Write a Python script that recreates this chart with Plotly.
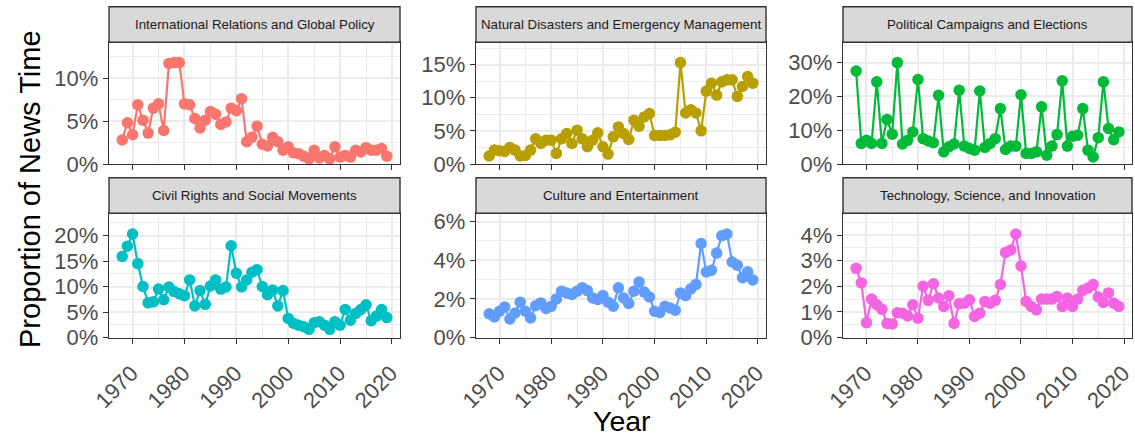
import plotly.graph_objects as go

years = [1968, 1969, 1970, 1971, 1972, 1973, 1974, 1975, 1976, 1977,
         1978, 1979, 1980, 1981, 1982, 1983, 1984, 1985, 1986, 1987,
         1988, 1989, 1990, 1991, 1992, 1993, 1994, 1995, 1996, 1997,
         1998, 1999, 2000, 2001, 2002, 2003, 2004, 2005, 2006, 2007,
         2008, 2009, 2010, 2011, 2012, 2013, 2014, 2015, 2016, 2017,
         2018, 2019]

topics = [
    "International Relations and Global Policy",
    "Natural Disasters and Emergency Management",
    "Political Campaigns and Elections",
    "Civil Rights and Social Movements",
    "Culture and Entertainment",
    "Technology, Science, and Innovation",
]

intl = [2.8, 4.8, 3.4, 6.9, 5.1, 3.6, 6.5, 7.0, 3.9, 11.7,
        11.8, 11.8, 7.0, 6.9, 5.3, 4.2, 5.1, 6.1, 5.8, 4.6,
        4.9, 6.5, 6.2, 7.6, 2.6, 3.1, 4.4, 2.3, 2.1, 3.1,
        2.6, 1.6, 2.0, 1.3, 1.2, 0.9, 0.6, 1.6, 0.7, 1.0,
        0.6, 2.0, 0.8, 1.0, 0.8, 1.6, 1.4, 1.9, 1.6, 1.6,
        1.8, 0.9]
natural = [1.2, 2.1, 2.0, 1.9, 2.5, 2.1, 1.2, 1.3, 2.1, 3.8,
           3.1, 3.6, 3.6, 1.6, 3.8, 4.6, 3.1, 5.1, 3.8, 2.6,
           3.6, 4.7, 2.6, 1.5, 4.1, 5.6, 4.6, 3.7, 6.6, 5.7,
           7.1, 7.6, 4.3, 4.3, 4.3, 4.4, 4.8, 15.3, 7.7, 8.2,
           7.7, 5.0, 11.0, 12.2, 10.4, 12.4, 12.7, 12.7, 10.2, 11.7,
           13.2, 12.2]
political = [27.5, 6.1, 7.0, 6.1, 24.3, 6.1, 13.2, 8.8, 30.0, 5.9,
             7.0, 9.5, 25.0, 7.5, 6.8, 6.3, 20.3, 3.6, 5.1, 5.9,
             21.8, 5.3, 4.6, 4.1, 21.6, 4.9, 6.1, 7.5, 16.4, 4.3,
             5.3, 5.3, 20.5, 3.1, 3.1, 3.6, 16.9, 2.6, 5.3, 8.7,
             24.6, 5.3, 8.2, 8.5, 16.4, 4.1, 2.1, 7.8, 24.3, 10.5,
             7.2, 9.5]
civil = [15.9, 17.9, 20.3, 14.5, 10.0, 6.8, 7.0, 9.5, 7.4, 9.9,
         9.0, 8.6, 8.2, 11.3, 6.2, 9.2, 6.5, 10.1, 11.3, 9.5,
         9.9, 18.0, 12.6, 9.9, 11.3, 12.8, 13.3, 10.0, 8.4, 9.3,
         6.2, 9.2, 3.75, 2.8, 2.4, 2.1, 1.6, 2.9, 3.1, 2.4,
         1.6, 3.1, 2.4, 5.5, 3.4, 4.7, 5.5, 6.4, 3.3, 4.2,
         5.5, 3.9]
culture = [1.23, 1.06, 1.36, 1.58, 0.96, 1.27, 1.83, 1.36, 1.01, 1.65,
           1.79, 1.50, 1.62, 2.0, 2.4, 2.31, 2.23, 2.4, 2.57, 2.43,
           2.05, 1.97, 2.17, 1.83, 1.62, 2.57, 2.05, 1.76, 2.4, 2.87,
           2.35, 2.1, 1.36, 1.30, 1.62, 1.53, 1.41, 2.31, 2.17, 2.52,
           2.75, 4.87, 3.39, 3.48, 4.37, 5.27, 5.36, 3.91, 3.74, 3.1,
           3.4, 2.98]
tech = [2.7, 2.13, 0.58, 1.5, 1.28, 1.1, 0.55, 0.53, 0.97, 0.95,
        0.84, 1.28, 0.75, 2.0, 1.45, 2.1, 1.54, 1.21, 1.63, 0.55,
        1.32, 1.34, 1.47, 0.82, 0.95, 1.41, 1.34, 1.45, 2.07, 3.32,
        3.42, 4.04, 2.79, 1.41, 1.21, 1.08, 1.5, 1.5, 1.5, 1.6,
        1.21, 1.54, 1.21, 1.5, 1.84, 1.93, 2.07, 1.58, 1.37, 1.74,
        1.34, 1.21]

series = [intl, natural, political, civil, culture, tech]
colors = ["#F8766D", "#B79F00", "#00BA38", "#00BFC4", "#619CFF", "#F564E3"]
y_steps = [5, 5, 10, 5, 2, 1]
x_ticks = [1970, 1980, 1990, 2000, 2010, 2020]
x_minor = [1965, 1975, 1985, 1995, 2005, 2015]

W, H = 1135, 438
col_px = [(109, 400), (476, 766), (843, 1132)]
row_px = [(42.3, 164.0), (213.3, 337.5)]   # plot area top/bottom
strip_h = 35.5

fig = go.Figure()
layout = dict(
    width=W, height=H, margin=dict(l=0, r=0, t=0, b=0, autoexpand=False),
    paper_bgcolor="white", plot_bgcolor="white", showlegend=False,
    font=dict(family="Liberation Sans, Arial, sans-serif"),
)
shapes, annotations = [], []

xmin, xmax = min(years), max(years)
xpad = 0.05 * (xmax - xmin)

for i, (name, vals, col, step) in enumerate(zip(topics, series, colors, y_steps)):
    r, c = divmod(i, 3)
    k = "" if i == 0 else str(i + 1)
    x0, x1 = col_px[c]
    yt, yb = row_px[r]
    xd = [x0 / W, x1 / W]
    yd = [1 - yb / H, 1 - yt / H]
    fig.add_trace(go.Scatter(
        x=years, y=vals, mode="lines+markers", xaxis="x" + k, yaxis="y" + k,
        line=dict(color=col, width=2.2), marker=dict(color=col, size=11.5),
        hoverinfo="skip",
    ))
    layout["xaxis" + k] = dict(
        domain=xd, anchor="y" + k, range=[xmin - xpad, xmax + xpad],
        automargin=False,
        tickmode="array", tickvals=x_ticks, ticktext=[str(v) for v in x_ticks],
        showticklabels=(r == 1), tickangle=-45, ticklabelshift=-1,
        ticklabelstandoff=8, ticklabeloverflow="allow",
        tickfont=dict(size=22, color="#4D4D4D"),
        ticks="outside", ticklen=5, tickwidth=1.4, tickcolor="#333333",
        showline=True, mirror=True, linecolor="#333333", linewidth=1.4,
        showgrid=True, gridcolor="#EBEBEB", gridwidth=1.6, zeroline=False,
        minor=dict(tickmode="array", tickvals=x_minor, showgrid=True,
                   gridcolor="#EBEBEB", gridwidth=0.8, ticks=""),
    )
    ymax = 1.2 * max(vals)
    layout["yaxis" + k] = dict(
        domain=yd, anchor="x" + k, range=[0, ymax], automargin=False,
        tick0=0, dtick=step, ticksuffix="%",
        tickfont=dict(size=22, color="#4D4D4D"),
        ticks="outside", ticklen=5, tickwidth=1.4, tickcolor="#333333",
        showline=True, mirror=True, linecolor="#333333", linewidth=1.4,
        showgrid=True, gridcolor="#EBEBEB", gridwidth=1.6, zeroline=False,
        minor=dict(tick0=step / 2, dtick=step, showgrid=True,
                   gridcolor="#EBEBEB", gridwidth=0.8, ticks=""),
    )
    # facet strip
    s_top = 1 - (yt - strip_h) / H
    s_bot = 1 - yt / H
    shapes.append(dict(type="rect", xref="paper", yref="paper",
                       x0=xd[0], x1=xd[1], y0=s_bot, y1=s_top,
                       fillcolor="#D9D9D9", line=dict(color="#333333", width=1.4),
                       layer="above"))
    annotations.append(dict(text=name, xref="paper", yref="paper",
                            x=(xd[0] + xd[1]) / 2, y=(s_bot + s_top) / 2,
                            xanchor="center", yanchor="middle", showarrow=False,
                            font=dict(size=13.3, color="#1A1A1A")))

annotations.append(dict(text="Year", xref="paper", yref="paper",
                        x=622 / W, y=1 - 421 / H, xanchor="center", yanchor="middle",
                        showarrow=False, font=dict(size=28.5, color="black")))
annotations.append(dict(text="Proportion of News Time", xref="paper", yref="paper",
                        x=30 / W, y=1 - 189 / H, xanchor="center", yanchor="middle",
                        textangle=-90, showarrow=False,
                        font=dict(size=29, color="black")))

layout["shapes"] = shapes
layout["annotations"] = annotations
fig.update_layout(**layout)
fig.write_html("out.html")
